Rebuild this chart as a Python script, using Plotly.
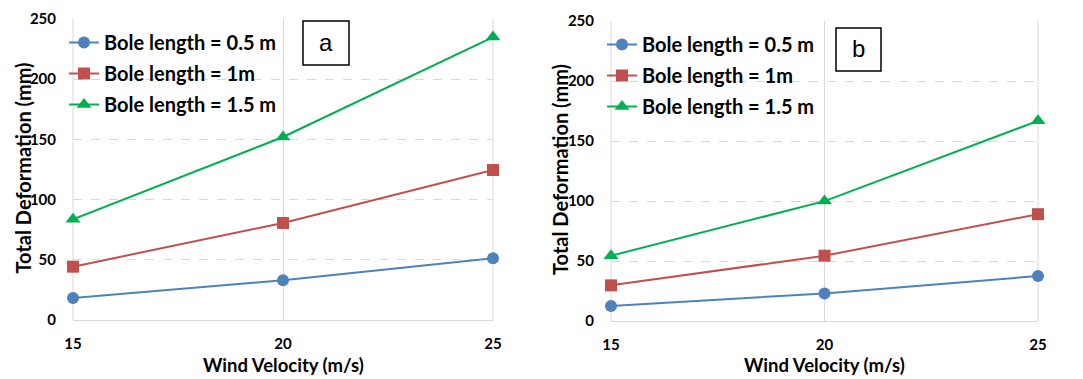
import plotly.graph_objects as go

W, H = 1083, 379

wind_velocity = [15, 20, 25]
series_names = ["Bole length = 0.5 m", "Bole length = 1m", "Bole length = 1.5 m"]
panel_a = {
    "Bole length = 0.5 m": [18.3, 33.0, 51.2],
    "Bole length = 1m": [44.3, 80.6, 124.6],
    "Bole length = 1.5 m": [83.6, 152.0, 235.0],
}
panel_b = {
    "Bole length = 0.5 m": [12.5, 23.0, 37.5],
    "Bole length = 1m": [29.7, 54.4, 89.0],
    "Bole length = 1.5 m": [54.4, 99.9, 166.8],
}
panel_labels = ["a", "b"]
x_ticks = [15, 20, 25]
y_ticks = [0, 50, 100, 150, 200, 250]
x_title = "Wind Velocity (m/s)"
y_title = "Total Deformation (mm)"

colors = ["#4F81BD", "#C0504D", "#00B050"]
symbols = ["circle", "square", "triangle-up"]
FONT = "Lato"


def px(x):
    return x / W


def py(y):
    return 1 - y / H


fig = go.Figure()

# plot-area boxes in screen pixels
areas = [(73, 493, 19, 320), (611, 1038, 21, 321)]

for i, data in enumerate([panel_a, panel_b]):
    sfx = "" if i == 0 else str(i + 1)
    for j, name in enumerate(series_names):
        fig.add_trace(go.Scatter(
            x=wind_velocity, y=data[name], name=name,
            mode="lines+markers", cliponaxis=False,
            line=dict(color=colors[j], width=2),
            marker=dict(symbol=symbols[j], size=12 if j < 2 else 13, color=colors[j]),
            xaxis="x" + sfx, yaxis="y" + sfx,
            legend="legend" + sfx, legendgroup=f"p{i}s{j}",
        ))

layout = dict(
    width=W, height=H, margin=dict(l=0, r=0, t=0, b=0, autoexpand=False),
    paper_bgcolor="white", plot_bgcolor="white",
    font=dict(family=FONT, color="black"),
)

annotations = []
shapes = []
for i, (x0, x1, y0, y1) in enumerate(areas):
    sfx = "" if i == 0 else str(i + 1)
    layout["xaxis" + sfx] = dict(
        domain=[px(x0), px(x1)], range=[15, 25], tickvals=x_ticks,
        showgrid=True, gridcolor="#D9D9D9", gridwidth=1,
        showline=True, linecolor="#D9D9D9", mirror=False,
        zeroline=False, ticks="", ticklabelstandoff=10, automargin=False,
        tickfont=dict(family=FONT, size=15, color="black", weight="bold"),
        anchor="y" + sfx,
    )
    layout["yaxis" + sfx] = dict(
        domain=[py(y1), py(y0)], range=[0, 250], tickvals=y_ticks,
        showgrid=True, gridcolor="#D9D9D9", griddash="dash", gridwidth=1,
        showline=False, zeroline=False, ticks="", ticklabelstandoff=16, automargin=False,
        tickfont=dict(family=FONT, size=15, color="black", weight="bold"),
        anchor="x" + sfx,
    )
    shapes.append(dict(type="line", xref="paper", yref="paper", layer="below",
                       x0=px(x1), x1=px(x1), y0=py(y1), y1=py(y0),
                       line=dict(color="#D9D9D9", width=1)))
    shapes.append(dict(type="line", xref="paper", yref="paper", layer="below",
                       x0=px(x0), x1=px(x0), y0=py(y1), y1=py(y0),
                       line=dict(color="#D9D9D9", width=1)))
    cx = (x0 + x1) / 2
    annotations.append(dict(text=x_title, x=px(cx), y=py(365), xref="paper", yref="paper",
                            showarrow=False, xanchor="center", yanchor="middle",
                            font=dict(family=FONT, size=18.5, color="black", weight="bold")))
    annotations.append(dict(text=y_title, x=px(x0 - 51), y=py((y0 + y1) / 2 - 1), xref="paper", yref="paper",
                            showarrow=False, textangle=-90, xanchor="center", yanchor="middle",
                            font=dict(family=FONT, size=20, color="black", weight="bold")))
    layout["legend" + sfx] = dict(
        x=px(x0 - 9), y=py(y0 + 4), xanchor="left", yanchor="top",
        xref="paper", yref="paper",
        bgcolor="rgba(255,255,255,0)", borderwidth=0,
        font=dict(family=FONT, size=20, color="black", weight="bold"),
        itemwidth=30, tracegroupgap=2,
    )

# panel label boxes (screen pixels)
boxes = [(303, 349, 21, 65), (836, 881, 28, 71)]
for lab, (bx0, bx1, by0, by1) in zip(panel_labels, boxes):
    shapes.append(dict(type="rect", xref="paper", yref="paper",
                       x0=px(bx0), x1=px(bx1), y0=py(by1), y1=py(by0),
                       line=dict(color="black", width=1.5), fillcolor="white"))
    annotations.append(dict(text=lab, x=px((bx0 + bx1) / 2), y=py((by0 + by1) / 2 - 1),
                            xref="paper", yref="paper", showarrow=False,
                            xanchor="center", yanchor="middle",
                            font=dict(family="Liberation Sans", size=24, color="black")))

layout["annotations"] = annotations
layout["shapes"] = shapes
fig.update_layout(**layout)
fig.write_html("out.html", config={"displayModeBar": False},
               post_script="document.body.style.margin='0';document.body.style.overflow='hidden';")
